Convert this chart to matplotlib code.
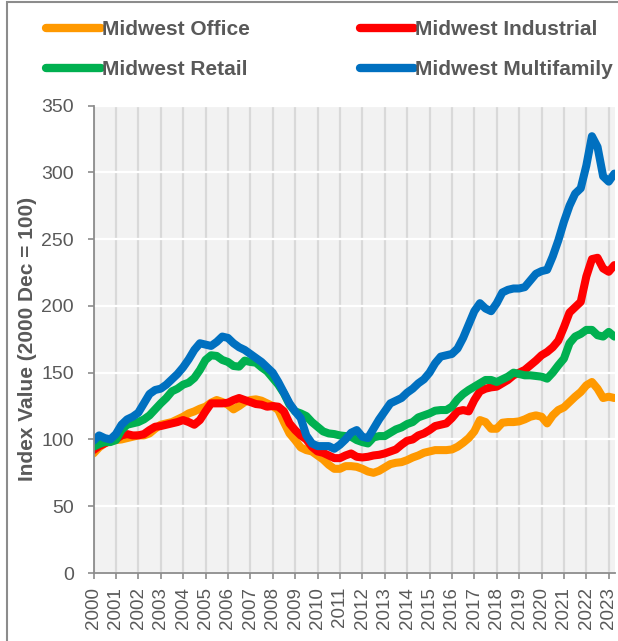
import numpy as np
import matplotlib.pyplot as plt
from matplotlib.patches import Rectangle

plt.rcParams['font.family'] = ['Liberation Sans', 'DejaVu Sans']

# ----------------------- data (quarterly, 2000 Q1 .. 2023 Q2) -----------------------
start_year = 2000
years = list(range(2000, 2024))

office = [89.5, 94, 97, 99, 99.5, 100, 101, 102, 103, 103, 104.5, 108,
          111, 112, 113, 115, 117, 119.5, 121, 123, 124.5, 127.5, 129.5, 128,
          126, 122.5, 125, 128, 129.5, 130, 129, 127, 125, 122, 113, 104.5,
          99.5, 94, 92, 91, 88, 85, 81, 78, 78, 80, 80, 79.5,
          78, 76, 75, 76.5, 79, 81.5, 82.5, 83, 84.5, 86.5, 88, 90,
          91, 92, 92, 92, 92.5, 94.5, 97.5, 101, 106, 114.5, 113, 108,
          108, 112.5, 113, 113, 113.5, 115, 117, 118, 117, 112, 118, 122,
          124, 128, 132, 135.5, 140.5, 143, 138, 131, 132, 131]

industrial = [92, 95, 97, 99, 100, 103, 104, 103, 103, 104, 107, 109.5,
              110, 111, 112, 113, 114.5, 113, 111, 114.5, 121, 127, 127, 127,
              127.5, 129.5, 131, 129.5, 128, 126.5, 126, 124.5, 125, 124.5, 121, 112,
              107, 103, 100, 94.5, 91, 90, 88, 86, 86, 88, 89.5, 87,
              86.5, 87, 88, 88.5, 89.5, 91, 92.5, 96, 99, 100, 103, 104.5,
              107, 110, 111, 112, 116, 121, 122, 121, 129.5, 136, 138, 139,
              139.5, 142, 144.5, 148, 150, 152, 155.5, 159, 163, 165.5, 169, 174,
              184, 195, 199, 203, 222, 235, 236, 228, 225.5, 230.5]

retail = [94.5, 96.5, 98, 98, 99.5, 107, 111, 112, 113, 115, 118, 122.5,
          127, 131, 136, 138, 141, 142.5, 146, 152, 159.5, 163, 162.5, 159.5,
          158, 155, 154.5, 159, 158, 157.5, 154, 151, 146, 141, 134.5, 126,
          121, 119.5, 117.5, 113, 109.5, 106, 104.5, 104, 103, 102.5, 102, 99.5,
          98, 97, 101.5, 102.5, 102.5, 105, 107.5, 109, 111.5, 113, 116.5, 118,
          119.5, 121.5, 122, 122, 124.5, 130, 134, 137, 139.5, 142, 144.5, 144.5,
          143, 145, 147, 150, 149, 148, 148, 147.5, 147, 145.5, 150, 155.5,
          160.5, 172, 177, 179, 182, 182, 178, 177, 180.5, 177]

multifamily = [99, 103, 101, 100, 104, 111, 115, 117, 120, 127, 134, 137,
               138, 141, 145, 149, 154, 160, 167, 172, 171, 170, 173, 177,
               176, 172, 169, 167, 164, 161, 158, 154, 150, 143, 135, 127,
               121, 116, 103, 97, 95, 95, 95, 93, 96, 100, 105, 107,
               102, 101, 108, 115, 121, 127, 129, 131, 135, 138, 142, 145,
               150, 157, 162, 163, 164, 168, 176, 186, 196, 202, 198, 196,
               202, 210, 212, 213, 213, 214, 219, 224, 226, 227, 237, 249,
               263, 275, 284, 288, 305, 327, 319, 297, 293, 299]

series_names = ['Midwest Office', 'Midwest Industrial', 'Midwest Retail', 'Midwest Multifamily']
series_colors = ['#FF9900', '#FF0000', '#00B050', '#0070C0']

TEXT_GRAY = '#595959'
AXIS_GRAY = '#8C8C8C'

# ----------------------- figure -----------------------
fig = plt.figure(figsize=(6.18, 6.41), dpi=100)
ax = fig.add_axes([93.5 / 618, 1 - 573 / 641, (615 - 93.5) / 618, (573 - 105.5) / 641])
ax.set_facecolor('#F2F2F2')

quarters = start_year + np.arange(len(office)) / 4.0
lines = []
for values, name, color in zip([office, industrial, retail, multifamily], series_names, series_colors):
    ln, = ax.plot(quarters, values, color=color, lw=5.8, label=name,
                  solid_capstyle='round', solid_joinstyle='round')
    lines.append(ln)

ax.set_xlim(2000, 2023.28)
ax.set_ylim(0, 350)
ax.set_yticks(np.arange(0, 351, 50))
ax.set_xticks(years)
ax.set_xticklabels([str(y) for y in years], rotation=90)

# grid: white horizontal, light gray vertical
ax.grid(axis='y', color='white', lw=1.6)
ax.grid(axis='x', color='#D9D9D9', lw=1.6)
ax.set_axisbelow(True)

for side in ['top', 'right']:
    ax.spines[side].set_visible(False)
for side in ['left', 'bottom']:
    ax.spines[side].set_color(AXIS_GRAY)
    ax.spines[side].set_linewidth(1.3)

ax.tick_params(axis='both', direction='out', length=4, width=1.2, color=AXIS_GRAY,
               labelcolor=TEXT_GRAY)
ax.tick_params(axis='y', labelsize=14, pad=10)
ax.tick_params(axis='x', labelsize=13.5, pad=6)

ax.set_ylabel('Index Value (2000 Dec = 100)', fontsize=15, fontweight='bold',
              color=TEXT_GRAY, labelpad=3.5)

# legend, Excel style (row-wise order)
order = [0, 2, 1, 3]
leg = fig.legend([lines[i] for i in order], [series_names[i] for i in order],
                 loc='upper left', bbox_to_anchor=(38 / 618, 1 - 12 / 641), ncol=2,
                 frameon=False, handlelength=2.6, handletextpad=0.05,
                 columnspacing=5.3, labelspacing=1.0, borderaxespad=0,
                 prop={'size': 15, 'weight': 'bold'})
for txt in leg.get_texts():
    txt.set_color(TEXT_GRAY)
for h in leg.legend_handles:
    h.set_linewidth(6)
    h.set_solid_capstyle('round')

# outer chart border (left and top edges visible)
fig.patches.append(Rectangle((7 / 618, -0.05), 1.2, 1.05 - 2 / 641,
                             transform=fig.transFigure, fill=False,
                             edgecolor='#8C8C8C', lw=1.5))

fig.savefig('out.png', dpi=100)
